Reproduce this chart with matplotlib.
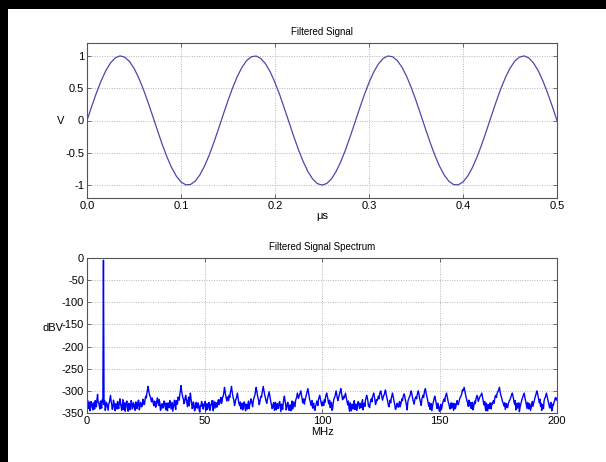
# Filtered signal and its spectrum, MATLAB-like look
import matplotlib
matplotlib.use('Agg')
import matplotlib.pyplot as plt
from matplotlib.patches import Rectangle
import numpy as np

# time trace, read every 0.005 us
t_start, t_stop = 0.0, 0.5
signal_v = [
    0.000, 0.218, 0.426, 0.613, 0.771, 0.891, 0.969, 1.000, 0.982, 0.918,
    0.809, 0.661, 0.482, 0.279, 0.063, -0.156, -0.368, -0.562, -0.729, -0.861,
    -0.951, -0.996, -0.992, -0.941, -0.844, -0.707, -0.536, -0.339, -0.125, 0.094,
    0.309, 0.509, 0.685, 0.827, 0.930, 0.988, 0.998, 0.960, 0.876, 0.750,
    0.588, 0.397, 0.187, -0.031, -0.249, -0.454, -0.637, -0.790, -0.905, -0.976,
    -1.000,
    -0.976, -0.905, -0.790, -0.637, -0.454, -0.249, -0.031, 0.187, 0.397, 0.588,
    0.750, 0.876, 0.960, 0.998, 0.988, 0.930, 0.827, 0.685, 0.509, 0.309,
    0.094, -0.125, -0.339, -0.536, -0.707, -0.844, -0.941, -0.992, -0.996, -0.951,
    -0.861, -0.729, -0.562, -0.368, -0.156, 0.063, 0.279, 0.482, 0.661, 0.809,
    0.918, 0.982, 1.000, 0.969, 0.891, 0.771, 0.613, 0.426, 0.218, 0.000,
]

# spectrum, read every 0.25 MHz from 0 to 200 MHz (two rows = 10 MHz)
f_start, f_stop = 0.0, 200.0
spectrum_dbv = [
    -332, -321, -340, -334, -325, -345, -338, -324, -328, -337, -343, -327, -330, -341, -322, -331, -336, -318, -308, -326,
    -327, -335, -341, -323, -333, -339, -320, -326, -5, -331, -322, -344, -338, -326, -329, -337, -344, -330, -326, -318,
    -310, -323, -331, -342, -339, -321, -326, -338, -345, -329, -333, -341, -324, -335, -340, -327, -318, -330, -335, -344,
    -329, -320, -342, -333, -327, -346, -337, -325, -323, -338, -346, -328, -331, -343, -336, -322, -325, -341, -339, -327,
    -330, -338, -344, -325, -327, -340, -335, -322, -321, -343, -338, -326, -328, -336, -333, -319, -322, -331, -329, -318,
    -312, -316, -305, -298, -290, -299, -306, -311, -314, -321, -325, -316, -321, -330, -334, -323, -326, -337, -330, -321,
    -316, -328, -333, -320, -327, -344, -341, -330, -329, -339, -336, -323, -324, -335, -343, -328, -331, -345, -327, -334,
    -338, -322, -325, -341, -333, -326, -346, -337, -328, -321, -335, -342, -322, -329, -330, -314, -317, -321, -308, -299,
    -288, -300, -307, -315, -318, -329, -326, -316, -310, -319, -329, -336, -321, -314, -334, -317, -305, -318, -327, -340,
    -337, -325, -330, -345, -343, -331, -326, -338, -339, -327, -332, -344, -348, -333, -335, -324, -328, -339, -341, -330,
    -333, -324, -345, -336, -329, -342, -338, -327, -326, -344, -340, -330, -331, -322, -336, -345, -323, -331, -339, -326,
    -328, -337, -334, -321, -320, -331, -327, -318, -315, -328, -322, -313, -312, -303, -292, -300, -310, -317, -323, -314,
    -316, -322, -310, -315, -304, -298, -290, -302, -309, -317, -321, -333, -329, -320, -318, -312, -305, -314, -324, -330,
    -334, -325, -341, -332, -328, -343, -337, -326, -325, -339, -345, -330, -332, -341, -329, -323, -340, -331, -327, -318,
    -323, -329, -336, -322, -317, -313, -308, -299, -292, -301, -309, -316, -320, -331, -327, -318, -312, -315, -305, -297,
    -290, -298, -306, -312, -318, -324, -328, -320, -314, -309, -302, -310, -319, -326, -331, -340, -338, -329, -326, -344,
    -335, -326, -343, -331, -329, -340, -338, -327, -324, -336, -347, -330, -332, -342, -327, -318, -312, -322, -330, -343,
    -339, -328, -326, -337, -344, -332, -333, -345, -329, -323, -341, -334, -325, -331, -336, -322, -318, -314, -305, -311,
    -317, -312, -308, -304, -300, -309, -316, -327, -324, -318, -330, -322, -316, -311, -305, -300, -295, -303, -311, -320,
    -324, -331, -333, -322, -339, -330, -328, -341, -344, -335, -331, -323, -326, -333, -319, -315, -310, -317, -323, -330,
    -334, -325, -328, -333, -320, -326, -314, -309, -305, -311, -318, -327, -330, -321, -338, -329, -326, -344, -341, -329,
    -320, -316, -313, -307, -300, -308, -316, -322, -317, -311, -306, -301, -295, -303, -312, -320, -318, -312, -316, -310,
    -305, -313, -320, -327, -332, -323, -339, -346, -327, -336, -345, -330, -334, -341, -329, -322, -342, -333, -330, -344,
    -337, -326, -324, -333, -340, -328, -331, -338, -326, -320, -343, -332, -328, -335, -321, -316, -310, -315, -322, -334,
    -331, -338, -327, -322, -318, -325, -313, -310, -305, -312, -319, -331, -328, -320, -322, -317, -312, -318, -308, -303,
    -300, -307, -314, -321, -315, -311, -308, -302, -298, -306, -313, -319, -325, -333, -336, -328, -321, -327, -316, -311,
    -305, -312, -319, -326, -333, -342, -340, -331, -328, -335, -337, -329, -324, -336, -331, -325, -318, -322, -314, -309,
    -307, -313, -320, -328, -334, -343, -326, -320, -317, -313, -310, -304, -300, -307, -314, -322, -325, -330, -319, -316,
    -313, -318, -309, -304, -300, -308, -315, -323, -327, -333, -318, -314, -310, -315, -305, -299, -295, -304, -310, -317,
    -322, -330, -335, -327, -342, -334, -329, -345, -337, -328, -323, -316, -312, -318, -326, -333, -340, -328, -333, -341,
    -346, -337, -331, -343, -338, -329, -325, -320, -318, -324, -313, -309, -305, -312, -319, -326, -330, -337, -341, -329,
    -327, -339, -336, -328, -344, -333, -329, -340, -335, -327, -322, -330, -331, -325, -320, -315, -314, -310, -306, -298,
    -300, -296, -292, -299, -307, -313, -318, -324, -327, -335, -321, -330, -334, -326, -340, -331, -326, -343, -337, -328,
    -323, -329, -318, -314, -310, -316, -324, -320, -316, -312, -311, -308, -305, -313, -320, -327, -332, -324, -339, -345,
    -328, -336, -345, -331, -333, -340, -327, -335, -341, -328, -330, -324, -322, -328, -317, -312, -310, -315, -306, -303,
    -300, -297, -292, -301, -308, -312, -317, -323, -326, -331, -334, -327, -342, -335, -329, -337, -338, -330, -325, -322,
    -320, -316, -312, -308, -305, -311, -318, -326, -331, -322, -343, -334, -328, -339, -336, -327, -347, -338, -332, -325,
    -321, -317, -313, -309, -305, -312, -319, -327, -333, -340, -326, -332, -341, -329, -330, -344, -338, -331, -324, -335,
    -329, -323, -318, -313, -309, -304, -300, -307, -314, -321, -327, -319, -335, -328, -344, -333, -331, -340, -323, -317,
    -315, -310, -305, -311, -318, -324, -330, -336, -339, -327, -326, -345, -343, -330, -332, -325, -322, -316, -315, -321,
    -318,
]

top_xticks = [0.0, 0.1, 0.2, 0.3, 0.4, 0.5]
top_yticks = [-1, -0.5, 0, 0.5, 1]
top_yticklabels = ['-1', '-0.5', '0', '0.5', '1']
bot_xticks = [0, 50, 100, 150, 200]
bot_yticks = [-350, -300, -250, -200, -150, -100, -50, 0]

plt.rcParams['font.family'] = ['Liberation Sans', 'DejaVu Sans']
plt.rcParams['axes.unicode_minus'] = False


def matlab_axes(ax):
    """
    Box, inward ticks on every side and dotted grid
    """
    for s in ax.spines.values():
        s.set_color('#555555')
        s.set_linewidth(0.8)
    ax.tick_params(direction='in', length=3, width=0.6, color='#555555',
                   top=True, right=True, labelsize=8, pad=2)
    ax.grid(True, color='#b5b5b5', linestyle=(0, (1, 1.5)), linewidth=0.7)
    ax.set_axisbelow(True)


fig = plt.figure(figsize=(6.06, 4.62), dpi=100)
fig.patch.set_facecolor('white')
# black border on the left and top of the capture
fig.add_artist(Rectangle((0, 0), 8 / 606, 1, transform=fig.transFigure,
                         facecolor='black', edgecolor='none'))
fig.add_artist(Rectangle((0, 1 - 9 / 462), 1, 9 / 462, transform=fig.transFigure,
                         facecolor='black', edgecolor='none'))

# top: time trace
ax1 = fig.add_axes([87 / 606, 1 - 198 / 462, 470 / 606, 155 / 462])
t = np.linspace(t_start, t_stop, len(signal_v))
ax1.plot(t, signal_v, color='#4a4aa8', linewidth=0.9)
ax1.set_xlim(t_start, t_stop)
ax1.set_ylim(-1.2, 1.2)
ax1.set_xticks(top_xticks)
ax1.set_xticklabels([f'{v:.1f}' for v in top_xticks])
ax1.set_yticks(top_yticks)
ax1.set_yticklabels(top_yticklabels)
matlab_axes(ax1)
ax1.set_title('Filtered Signal', fontsize=7, pad=6)
ax1.set_xlabel('\u03bcs', fontsize=8, labelpad=0)
ax1.set_ylabel('V', fontsize=8, rotation=0, va='center', ha='center')
ax1.yaxis.set_label_coords(-0.057, 0.5)

# bottom: spectrum
ax2 = fig.add_axes([87 / 606, 1 - 413 / 462, 470 / 606, 155 / 462])
f = np.linspace(f_start, f_stop, len(spectrum_dbv))
ax2.plot(f, spectrum_dbv, color='#0000ff', linewidth=1.0)
ax2.set_xlim(f_start, f_stop)
ax2.set_ylim(-350, 0)
ax2.set_xticks(bot_xticks)
ax2.set_yticks(bot_yticks)
matlab_axes(ax2)
ax2.set_title('Filtered Signal Spectrum', fontsize=7, pad=6)
ax2.set_xlabel('MHz', fontsize=8, labelpad=1)
ax2.set_ylabel('dBV', fontsize=8, rotation=0, va='center', ha='right')
ax2.yaxis.set_label_coords(-0.05, 0.55)

fig.savefig('out.png', dpi=100, facecolor='white')
